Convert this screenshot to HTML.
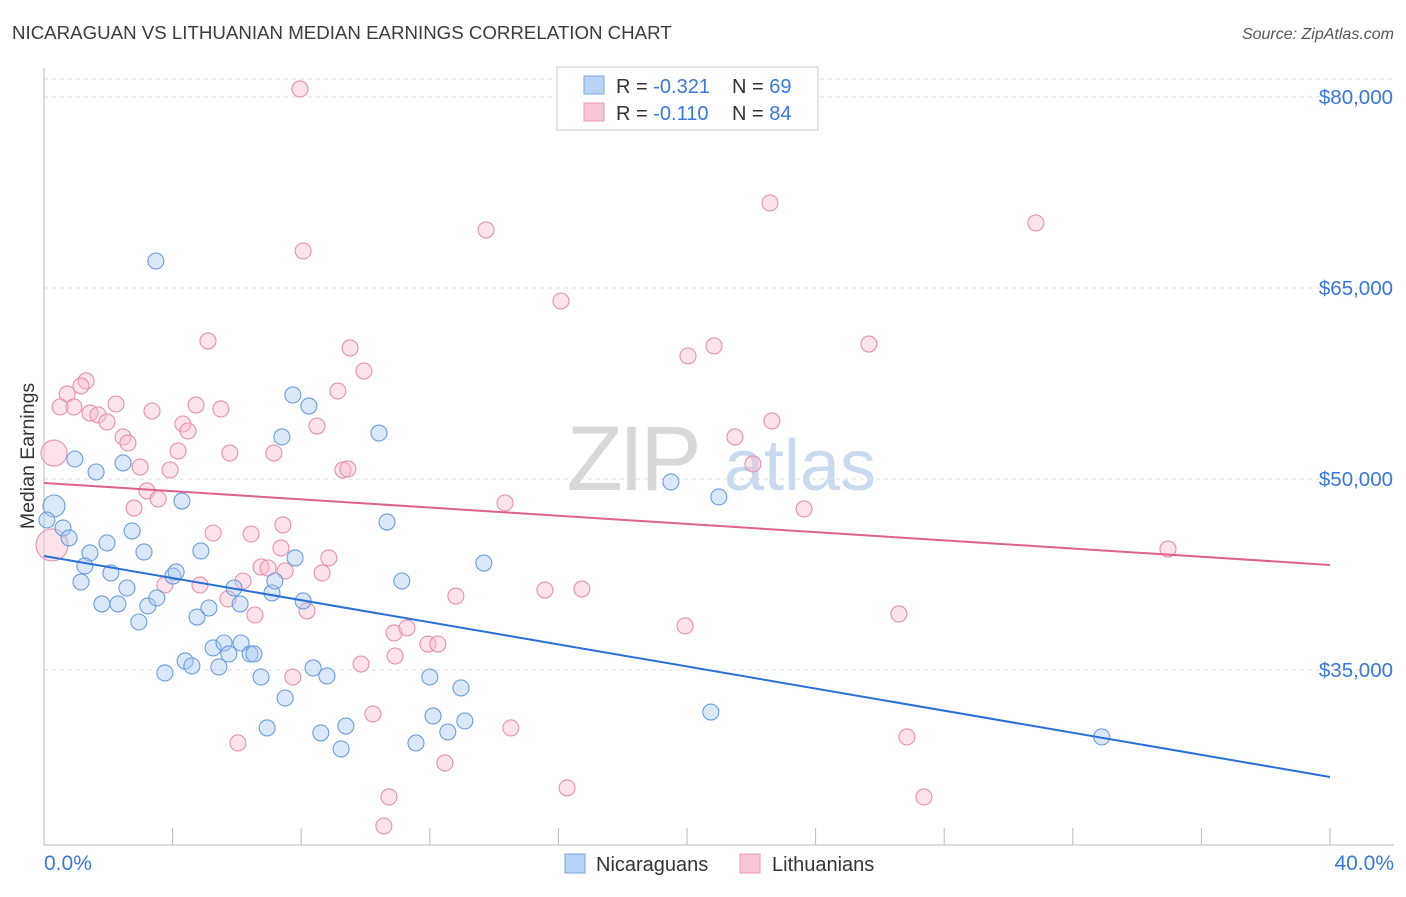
<!DOCTYPE html>
<html><head><meta charset="utf-8"><style>
body{margin:0;background:#fff;font-family:"Liberation Sans",sans-serif;}
svg text{font-family:"Liberation Sans",sans-serif;}
</style></head><body>
<svg id="chart" width="1406" height="892" xmlns="http://www.w3.org/2000/svg">
<text x="12" y="39" font-size="18.7" fill="#3c3c3c">NICARAGUAN VS LITHUANIAN MEDIAN EARNINGS CORRELATION CHART</text>
<text x="1394" y="39" font-size="16" fill="#555" font-style="italic" text-anchor="end">Source: ZipAtlas.com</text>
<g>
<text x="632" y="490" font-size="92" fill="#d8d8d8" font-family="Liberation Serif" text-anchor="middle" letter-spacing="-4">ZIP</text>
<text x="800" y="490" font-size="72" fill="#c8daf0" text-anchor="middle">atlas</text>
</g>
<g id="grid"></g>
<g id="axes"></g>
<g id="marks"></g>
<text transform="translate(34,456) rotate(-90)" font-size="19.5" fill="#333" text-anchor="middle">Median Earnings</text>
<g>
<rect x="557" y="67" width="261" height="63" fill="#fff" stroke="#ccc"/>
<rect x="584" y="76" width="20" height="18" fill="#b7d2f4" stroke="#7aa6e0"/>
<rect x="584" y="103" width="20" height="18" fill="#f8c6d5" stroke="#eb9ab4"/>
<text x="616" y="93" font-size="20" fill="#333">R = <tspan fill="#3a78d8">-0.321</tspan></text>
<text x="732" y="93" font-size="20" fill="#333">N = <tspan fill="#3a78d8">69</tspan></text>
<text x="616" y="120" font-size="20" fill="#333">R = <tspan fill="#3a78d8">-0.110</tspan></text>
<text x="732" y="120" font-size="20" fill="#333">N = <tspan fill="#3a78d8">84</tspan></text>
</g>
<g>
<rect x="565" y="854" width="20" height="19" fill="#b7d2f4" stroke="#7aa6e0"/>
<text x="596" y="871" font-size="20" fill="#333">Nicaraguans</text>
<rect x="740" y="854" width="20" height="19" fill="#f8c6d5" stroke="#eb9ab4"/>
<text x="772" y="871" font-size="20" fill="#333">Lithuanians</text>
</g>
</svg>
<script>
const yTicks=[80000,65000,50000,35000];
const yTickLabels=["$80,000","$65,000","$50,000","$35,000"];
const xTicks=[0,4,8,12,16,20,24,28,32,36,40];
const xTickLabels=["0.0%","40.0%"];
const blueX=[0.31,0.09,0.59,0.78,0.96,1.62,1.43,1.27,1.15,1.96,2.08,1.80,2.30,2.46,2.58,2.74,2.95,3.11,3.23,3.51,3.48,3.76,4.01,4.11,4.29,4.39,4.60,4.76,4.88,5.13,5.26,5.44,5.60,5.75,5.91,6.10,6.13,6.41,6.53,6.75,6.94,7.09,7.18,7.40,7.50,7.74,7.81,8.06,8.24,8.37,8.61,8.80,9.39,9.24,10.42,10.67,11.13,11.57,12.00,12.10,12.56,12.97,13.09,13.68,19.50,20.74,20.99,32.90];
const blueY=[47880,46780,46150,45370,51570,50550,44190,43170,41910,44980,42620,40190,40190,51260,41440,45920,38770,44270,40030,40660,67120,34770,42380,42700,48270,35710,35320,39160,44350,39870,36730,35240,37120,36260,41440,40190,37120,36260,36260,34450,30450,41050,41990,53300,32800,56600,43800,40420,55730,35160,30060,34530,30600,28800,53610,46620,41990,29270,34450,31390,30130,33590,31000,43400,49770,31700,48590,29740];
const pinkX=[7.96,8.06,13.75,22.58,30.85,16.08,5.10,9.52,9.95,9.14,20.03,20.84,25.66,1.31,1.15,0.72,0.93,0.50,1.43,1.68,1.96,2.24,2.46,2.61,3.36,4.32,4.48,4.73,5.50,5.78,4.17,2.99,3.92,3.20,3.55,2.80,0.31,0.25,7.15,8.49,9.30,9.45,14.34,21.49,22.05,22.64,23.64,34.96,5.26,6.44,3.76,4.85,5.72,6.19,6.56,6.75,6.97,7.37,7.50,7.74,8.18,8.65,8.86,9.86,10.23,10.89,10.92,11.29,11.94,12.25,12.81,15.58,16.73,19.94,26.59,6.03,10.73,10.57,12.47,14.52,16.27,26.84,27.37,7.43];
const pinkY=[80630,67910,69560,71680,70110,63980,60840,60290,58480,56910,59660,60450,60600,57700,57310,56680,55660,55660,55180,55030,54480,55890,53300,52830,55340,54320,53770,55810,55500,52040,52200,50940,50710,49060,48430,47720,52040,44820,52040,54160,50710,50790,48120,53300,51180,54560,47650,44500,45760,45680,41680,41680,40580,41990,39320,43090,43010,44580,42780,34450,39640,42620,43800,35470,31550,37910,36100,38300,37040,37040,40810,41280,41360,38460,39400,29270,25030,22750,27700,30450,25740,29740,25030,46390];
const blueTrend=[43955,26600];
const pinkTrend=[49690,43250];
const NS="http://www.w3.org/2000/svg";
function sx(v){return 44+v*(1330-44)/40;}
function sy(v){return 97+(80000-v)*191/15000;}
function mk(tag,attrs,parent){const e=document.createElementNS(NS,tag);for(const k in attrs)e.setAttribute(k,attrs[k]);parent.appendChild(e);return e;}
const grid=document.getElementById('grid'),axes=document.getElementById('axes'),marks=document.getElementById('marks');
let gl=mk('line',{x1:44,x2:1394,y1:79,y2:79,stroke:'#ddd','stroke-dasharray':'4,4'},grid);


yTicks.forEach((t,i)=>{
 const l=mk('line',{x1:44,x2:1394,y1:sy(t),y2:sy(t),stroke:'#ddd','stroke-dasharray':'4,4'},grid);
 
 
 const tx=mk('text',{x:1393,y:sy(t)+7,'font-size':20.5,fill:'#3a78d8','text-anchor':'end'},axes);
 tx.textContent=yTickLabels[i];
 
 
});
let ya=mk('line',{x1:44,x2:44,y1:68,y2:845,stroke:'#bbb'},axes);


let xa=mk('line',{x1:44,x2:1394,y1:845,y2:845,stroke:'#bbb'},axes);


xTicks.forEach(t=>{
 const l=mk('line',{x1:sx(t),x2:sx(t),y1:828,y2:845,stroke:'#bbb'},axes);
 
 
});
let xl0=mk('text',{x:44,y:870,'font-size':21,fill:'#3a78d8'},axes);xl0.textContent=xTickLabels[0];


let xl1=mk('text',{x:1394,y:870,'font-size':21,fill:'#3a78d8','text-anchor':'end'},axes);xl1.textContent=xTickLabels[1];


function pts(X,Y,fill,stroke,name){
 X.forEach((x,i)=>{
  let r=8;
  if(i===0&&name==='nicaraguan-point')r=11;
  if(name==='lithuanian-point'&&(i===36))r=13;
  if(name==='lithuanian-point'&&(i===37))r=16;
  const c=mk('circle',{cx:sx(x),cy:sy(Y[i]),r:r,fill:fill,'fill-opacity':0.42,stroke:stroke,'stroke-width':1.1},marks);
  
  
 });
}
pts(pinkX,pinkY,'#f7bdd0','#e890ab','lithuanian-point');
pts(blueX,blueY,'#aac9f1','#6a9de0','nicaraguan-point');
let bl=mk('line',{x1:sx(0),y1:sy(blueTrend[0]),x2:sx(40),y2:sy(blueTrend[1]),stroke:'#2a6fd6','stroke-width':2},marks);


let pl=mk('line',{x1:sx(0),y1:sy(pinkTrend[0]),x2:sx(40),y2:sy(pinkTrend[1]),stroke:'#e0608e','stroke-width':2},marks);


</script>
</body></html>
